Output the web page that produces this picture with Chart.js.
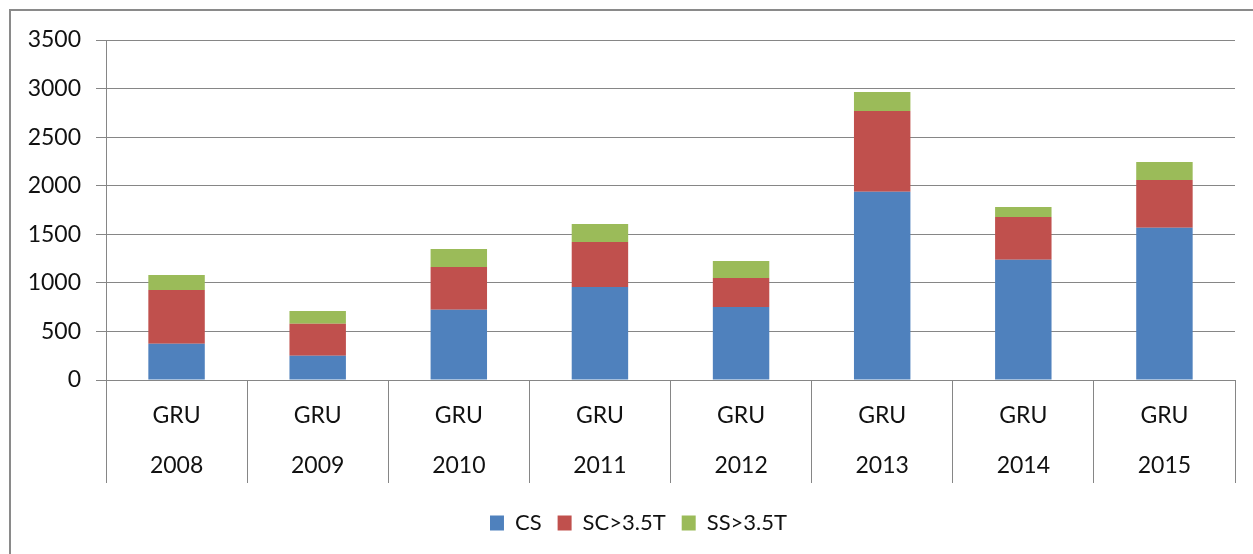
<!DOCTYPE html>
<html>
<head>
<meta charset="utf-8">
<script src="https://cdn.jsdelivr.net/npm/chart.js@4.4.1/dist/chart.umd.min.js"></script>
<style>
  html, body { margin:0; padding:0; background:#fff; overflow:hidden; }
  #wrap { position:relative; width:1253px; height:554px; }
  #frame { position:absolute; left:9px; top:9px; width:1300px; height:600px; border:2px solid #8a8a8a; box-sizing:border-box; }
  canvas { position:absolute; left:0; top:0; }
</style>
</head>
<body>
<div id="wrap">
  <div id="frame"></div>
  <canvas id="c" width="1253" height="554"></canvas>
</div>
<script>
const groups = ['GRU','GRU','GRU','GRU','GRU','GRU','GRU','GRU'];
const years = ['2008','2009','2010','2011','2012','2013','2014','2015'];
const csValues = [374, 250, 724, 957, 751, 1938, 1239, 1568];
const scValues = [552, 330, 439, 463, 299, 831, 439, 491];
const ssValues = [155, 130, 185, 186, 175, 196, 103, 185];
const seriesNames = ['CS', 'SC>3.5T', 'SS>3.5T'];
const yTicks = [0, 500, 1000, 1500, 2000, 2500, 3000, 3500];

const labels = years.map((y, i) => [groups[i], y]);
const gridColor = '#868686';
const fontFamily = 'Lato, "Open Sans", sans-serif';

const legendShift = {
  id: 'legendShift',
  afterLayout(chart) {
    const lg = chart.legend;
    if (!lg) return;
    lg.left += 15; lg.right += 15;
    lg.top += 5; lg.bottom += 5;
  }
};

new Chart(document.getElementById('c'), {
  type: 'bar',
  data: {
    labels: labels,
    datasets: [
      { label: seriesNames[0], data: csValues, backgroundColor: '#4F81BD' },
      { label: seriesNames[1], data: scValues, backgroundColor: '#C0504D' },
      { label: seriesNames[2], data: ssValues, backgroundColor: '#9BBB59' }
    ]
  },
  plugins: [legendShift],
  options: {
    responsive: false,
    animation: false,
    layout: { padding: { left: 12, right: 18, top: 40, bottom: 15 } },
    datasets: { bar: { categoryPercentage: 1, barPercentage: 0.4 } },
    plugins: {
      tooltip: { enabled: false },
      legend: {
        position: 'bottom',
        labels: {
          boxWidth: 14, boxHeight: 15, padding: 16,
          color: '#111',
          font: { family: fontFamily, size: 22 }
        }
      }
    },
    scales: {
      x: {
        stacked: true,
        offset: true,
        grid: { offset: true, drawOnChartArea: false, drawTicks: true, tickLength: 103, color: gridColor, lineWidth: 1 },
        border: { display: true, color: gridColor, width: 1 },
        ticks: { color: '#111', padding: -92, maxRotation: 0, autoSkip: false,
                 font: { family: fontFamily, size: 23, lineHeight: 50 / 23 } },
        afterFit: (s) => { s.height = 111; }
      },
      y: {
        stacked: true,
        min: 0, max: 3500,
        afterBuildTicks: (s) => { s.ticks = yTicks.map(v => ({ value: v })); },
        grid: { color: gridColor, lineWidth: 1, tickLength: 10, drawTicks: true },
        border: { display: true, color: gridColor, width: 1 },
        ticks: { color: '#111', padding: 15, font: { family: fontFamily, size: 23 },
                 callback: (v) => String(v) },
        afterFit: (s) => { s.width = 94; }
      }
    }
  }
});
</script>
</body>
</html>
